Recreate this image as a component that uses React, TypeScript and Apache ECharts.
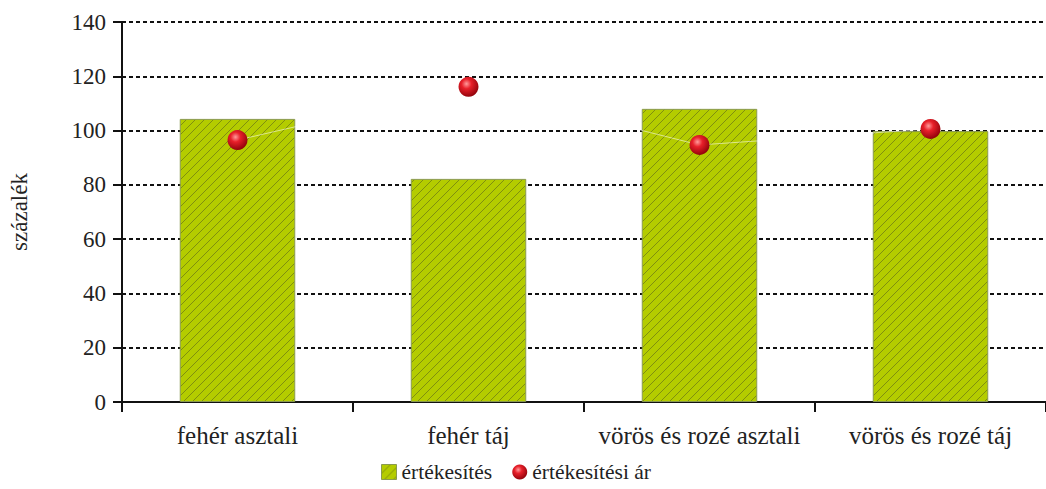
import React, { useEffect, useRef } from "react";
import * as echarts from "echarts";

const categories = ["fehér asztali", "fehér táj", "vörös és rozé asztali", "vörös és rozé táj"];
const salesValues = [104.3, 82.2, 108.0, 99.8];
const priceValues = [96.5, 116.1, 94.7, 100.6];
const seriesNames = ["értékesítés", "értékesítési ár"];

function makePattern(): HTMLCanvasElement {
  const c = document.createElement("canvas");
  c.width = 9;
  c.height = 9;
  const ctx = c.getContext("2d")!;
  ctx.fillStyle = "#b4cc00";
  ctx.fillRect(0, 0, 9, 9);
  ctx.strokeStyle = "#7f8f10";
  ctx.lineWidth = 1;
  ctx.beginPath();
  for (let k = -1; k <= 1; k++) {
    ctx.moveTo(k * 9 - 1, 10);
    ctx.lineTo(k * 9 + 10, -1);
  }
  ctx.stroke();
  return c;
}

export default function App() {
  const ref = useRef<HTMLDivElement>(null);
  useEffect(() => {
    if (!ref.current) return;
    const chart = echarts.init(ref.current, null, { renderer: "svg" });
    const pattern = makePattern();
    const sphere = new echarts.graphic.RadialGradient(0.4, 0.35, 0.7, [
      { offset: 0, color: "#ff9a9a" },
      { offset: 0.35, color: "#e8202a" },
      { offset: 1, color: "#8a0008" },
    ]);
    const font = "Liberation Serif";
    chart.setOption({
      animation: false,
      backgroundColor: "#ffffff",
      textStyle: { fontFamily: font },
      grid: { left: 122, right: -4, top: 22, bottom: 87, containLabel: false },
      legend: {
        bottom: 1,
        left: 376,
        itemWidth: 15,
        itemHeight: 15,
        itemGap: 20,
        textStyle: { fontFamily: font, fontSize: 21.5, color: "#222" },
        data: [
          { name: seriesNames[0], icon: "rect", itemStyle: { color: { image: pattern, repetition: "repeat" }, borderColor: "#8a9a50", borderWidth: 1 } },
          { name: seriesNames[1], icon: "circle", itemStyle: { color: sphere } },
        ],
      },
      xAxis: {
        type: "category",
        data: categories,
        axisLine: { lineStyle: { color: "#111", width: 2 } },
        axisTick: { show: true, interval: 0, length: 10, lineStyle: { color: "#111", width: 2 } },
        axisLabel: { interval: 0, hideOverlap: false, fontFamily: font, fontSize: 25, color: "#222", margin: 21 },
      },
      yAxis: {
        type: "value",
        min: 0,
        max: 140,
        interval: 20,
        name: "százalék",
        nameLocation: "middle",
        nameGap: 91,
        nameTextStyle: { fontFamily: font, fontSize: 23, color: "#222" },
        axisLine: { show: true, lineStyle: { color: "#111", width: 2 } },
        axisTick: { show: true, length: 9, lineStyle: { color: "#111", width: 2 } },
        axisLabel: { fontFamily: font, fontSize: 23, color: "#222", margin: 16 },
        splitLine: { show: true, lineStyle: { color: "#111", width: 2, type: [4, 3] } },
      },
      series: [
        {
          name: seriesNames[0],
          type: "bar",
          data: salesValues,
          barWidth: "50%",
          itemStyle: {
            color: { image: pattern, repetition: "repeat" },
            borderColor: "#8a9a50",
            borderWidth: 1,
          },
        },
        {
          name: seriesNames[1],
          type: "line",
          data: priceValues,
          symbol: "circle",
          symbolSize: 20,
          lineStyle: { color: "rgba(255,255,255,0.55)", width: 1 },
          itemStyle: { color: sphere, borderWidth: 0 },
          z: 5,
        },
      ],
    });
    return () => chart.dispose();
  }, []);
  return (
    <div
      ref={ref}
      style={{ position: "fixed", left: 0, top: 0, width: 1046, height: 489 }}
    />
  );
}
